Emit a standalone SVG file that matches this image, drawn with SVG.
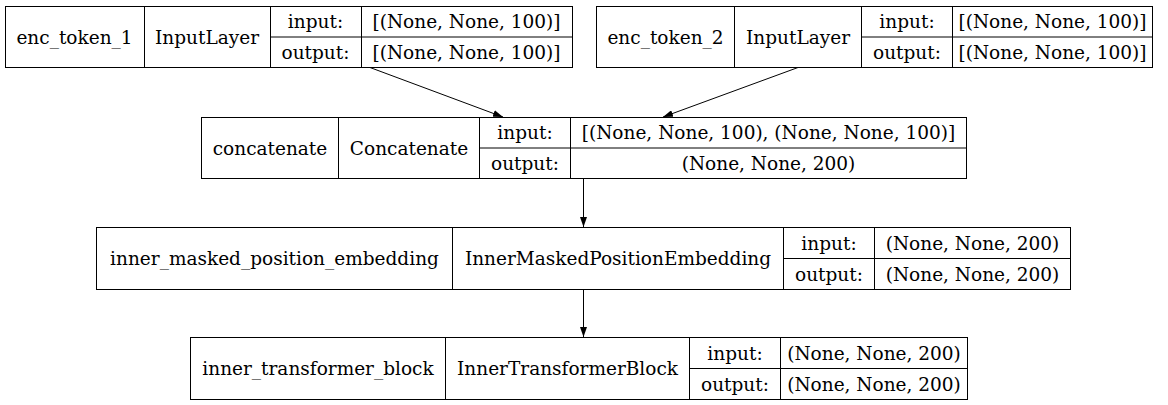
<svg xmlns="http://www.w3.org/2000/svg" width="1168" height="405" viewBox="0 0 1168 405">
<style>
.box{fill:#fff;stroke:#000;stroke-width:1}
.ln{stroke:#000;stroke-width:1;fill:none}
text{font-family:"DejaVu Serif","Liberation Serif",serif;font-size:18.5px;fill:#000;text-anchor:middle;dominant-baseline:central}
.edge{stroke:#000;stroke-width:1;fill:none;marker-end:url(#ah)}
</style>
<defs>
<marker id="ah" viewBox="0 0 10 7" refX="10" refY="3.5" markerWidth="10" markerHeight="7" markerUnits="userSpaceOnUse" orient="auto">
<path d="M0,0 L10,3.5 L0,7 Z" fill="#000"/>
</marker>
</defs>
<rect width="1168" height="405" fill="#fff"/>
<g id="connectors">
<path class="edge" d="M370,67.5 L503,117"/>
<path class="edge" d="M798,67.5 L663,117"/>
<path class="edge" d="M583.5,178 L583.5,227"/>
<path class="edge" d="M583.5,289 L583.5,337"/>
</g>
<g id="enc_token_1">
<rect class="box" x="5.5" y="6.5" width="567" height="61"/>
<path class="ln" d="M144.5,6.5V67.5M270.5,6.5V67.5M361.5,6.5V67.5M270.5,37H572.5"/>
<text x="74.5" y="37">enc_token_1</text>
<text x="207" y="37">InputLayer</text>
<text x="315.5" y="21.5">input:</text>
<text x="315.5" y="52">output:</text>
<text x="466.5" y="21.5">[(None, None, 100)]</text>
<text x="466.5" y="52">[(None, None, 100)]</text>
</g>
<g id="enc_token_2">
<rect class="box" x="596.5" y="6.5" width="556" height="61"/>
<path class="ln" d="M734.5,6.5V67.5M861.5,6.5V67.5M952.5,6.5V67.5M861.5,37H1152.5"/>
<text x="665.5" y="37">enc_token_2</text>
<text x="798" y="37">InputLayer</text>
<text x="907" y="21.5">input:</text>
<text x="907" y="52">output:</text>
<text x="1052.5" y="21.5">[(None, None, 100)]</text>
<text x="1052.5" y="52">[(None, None, 100)]</text>
</g>
<g id="concatenate">
<rect class="box" x="201.5" y="117.5" width="765" height="61"/>
<path class="ln" d="M338.5,117.5V178.5M479.5,117.5V178.5M570.5,117.5V178.5M479.5,148H966.5"/>
<text x="270" y="148">concatenate</text>
<text x="409" y="148">Concatenate</text>
<text x="525" y="132.5">input:</text>
<text x="525" y="163">output:</text>
<text x="768.5" y="132.5">[(None, None, 100), (None, None, 100)]</text>
<text x="768.5" y="163">(None, None, 200)</text>
</g>
<g id="inner_masked_position_embedding">
<rect class="box" x="96.5" y="227.5" width="974" height="62"/>
<path class="ln" d="M452.5,227.5V289.5M783.5,227.5V289.5M874.5,227.5V289.5M783.5,258.5H1070.5"/>
<text x="274.5" y="258.5">inner_masked_position_embedding</text>
<text x="618" y="258.5">InnerMaskedPositionEmbedding</text>
<text x="829" y="243">input:</text>
<text x="829" y="274">output:</text>
<text x="972.5" y="243">(None, None, 200)</text>
<text x="972.5" y="274">(None, None, 200)</text>
</g>
<g id="inner_transformer_block">
<rect class="box" x="190.5" y="337.5" width="777" height="62"/>
<path class="ln" d="M445.5,337.5V399.5M689.5,337.5V399.5M780.5,337.5V399.5M689.5,368.5H967.5"/>
<text x="318" y="368.5">inner_transformer_block</text>
<text x="567.5" y="368.5">InnerTransformerBlock</text>
<text x="735" y="353">input:</text>
<text x="735" y="384">output:</text>
<text x="874" y="353">(None, None, 200)</text>
<text x="874" y="384">(None, None, 200)</text>
</g>
</svg>
